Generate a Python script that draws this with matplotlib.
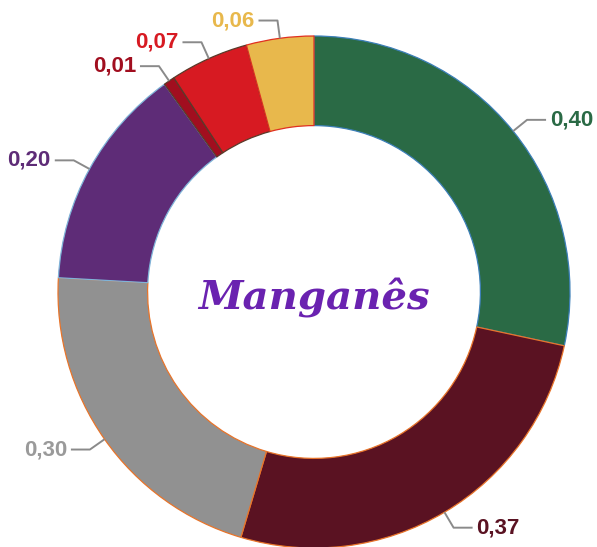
import numpy as np
import matplotlib.pyplot as plt

# dados
valores = [0.40, 0.37, 0.30, 0.20, 0.01, 0.07, 0.06]
rotulos = ['0,40', '0,37', '0,30', '0,20', '0,01', '0,07', '0,06']
cores = ['#2A6A45', '#5A1222', '#919191', '#5E2C77', '#A10E1F', '#D71A22', '#E8B84C']
bordas = ['#3C7FB8', '#E8742A', '#E8742A', '#7FB3D8', '#5A3A2A', '#5A3A2A', '#E03020']
cores_texto = ['#2A6A45', '#5A1222', '#9A9A9A', '#5E2C77', '#A10E1F', '#D71A22', '#E8B84C']
titulo = 'Manganês'

W, H = 597, 547
cx, cy = 314, 292          # centro em pixels
R = 256                    # raio externo em pixels

fig = plt.figure(figsize=(W / 100, H / 100), dpi=100)
ax = fig.add_axes([0, 0, 1, 1])

wedges, _ = ax.pie(
    valores,
    radius=R,
    startangle=90,
    counterclock=False,
    colors=cores,
    wedgeprops=dict(width=R * 0.35, linewidth=0.9),
)
for w, b in zip(wedges, bordas):
    w.set_edgecolor(b)

# limites depois do pie (o pie redefine os eixos)
ax.set_xlim(-cx, W - cx)
ax.set_ylim(-(H - cy), cy)
ax.set_aspect('equal')
ax.axis('off')

fonte = ['Liberation Sans Narrow', 'Liberation Sans', 'DejaVu Sans']
for w, txt, c in zip(wedges, rotulos, cores_texto):
    ang = np.deg2rad((w.theta1 + w.theta2) / 2)
    x0, y0 = R * np.cos(ang), R * np.sin(ang)
    x1, y1 = 1.07 * R * np.cos(ang), 1.07 * R * np.sin(ang)
    lado = 1 if np.cos(ang) >= 0 else -1
    x2 = x1 + lado * 19
    ax.plot([x0, x1, x2], [y0, y1, y1], color='#8A8A8A', lw=1.4, solid_capstyle='butt')
    ax.text(x2 + lado * 4, y1, txt, color=c, fontsize=16, fontweight='bold',
            family=fonte, ha='left' if lado > 0 else 'right', va='center')

ax.text(0, -6, titulo, color='#6A22B0', fontsize=29, fontweight='bold',
        style='italic', family=['DejaVu Serif'], ha='center', va='center')

fig.savefig('out.png', dpi=100)
